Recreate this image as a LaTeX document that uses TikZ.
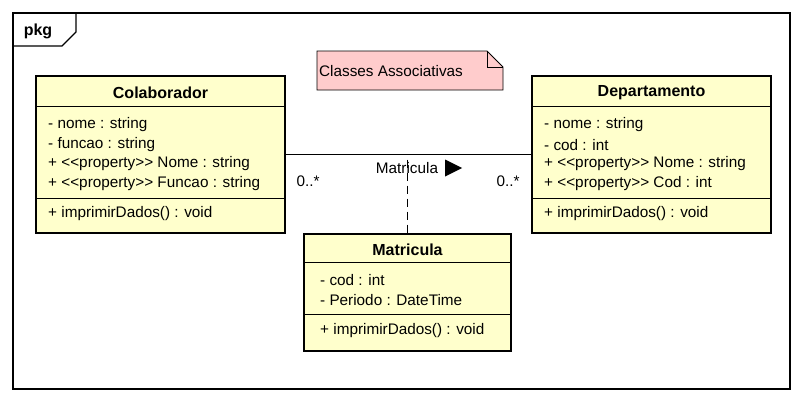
\documentclass[tikz,border=0pt]{standalone}
\usepackage{fontspec}
\setmainfont{Liberation Sans}[Ligatures=TeXOff]
\usepackage{tikz}
\definecolor{classfill}{RGB}{255,255,204}
\definecolor{notefill}{RGB}{255,204,204}
\tikzstyle{classbox} = [draw, line width=2.6pt, fill=classfill,
    inner sep=0pt, outer sep=0pt]
\tikzstyle{sepline} = [line width=0.9pt]
\tikzstyle{member} = [anchor=west, inner sep=0pt,
    font=\fontsize{15.3}{18}\selectfont]
\tikzstyle{classname} = [inner sep=0pt, font=\fontsize{16}{19}\selectfont\bfseries]
\tikzstyle{mult} = [inner sep=0pt, font=\fontsize{15.3}{18}\selectfont]
\tikzset{dashlink/.style={line width=0.9pt, dash pattern=on 8pt off 5pt, dash phase=-5pt}}

\begin{document}
\begin{tikzpicture}[x=1pt,y=-1pt]
    \useasboundingbox (0,0) rectangle (804,402);
    %frame
    \draw [line width=1.2pt] (13,13) rectangle (790,389);
    \draw [line width=1.2pt] (13,46) -- (62,46) -- (76,32) -- (76,13);
    \node[classname] (pkg) at (38,31) {pkg};
    %note
    \draw [fill=notefill, line width=0.8pt] (317,51) -- (487,51) -- (503,67)
        -- (503,90) -- (317,90) -- cycle;
    \draw [line width=0.8pt] (487,51) -- (487,67) -- (503,67);
    \node[member] (note) at (319,71) {Classes Associativas};
    %boxes
    \node[classbox, minimum width=249pt, minimum height=157pt] (colab) at (160.5,154.5) {};
    \node[classbox, minimum width=239pt, minimum height=157pt] (dep) at (651.5,154.5) {};
    \node[classbox, minimum width=207pt, minimum height=117pt] (matric) at (407.5,292.5) {};
    %compartments
    \draw [sepline] ([yshift=-30pt]colab.north west) -- ([yshift=-30pt]colab.north east);
    \draw [sepline] ([yshift=35pt]colab.south west) -- ([yshift=35pt]colab.south east);
    \draw [sepline] ([yshift=-30pt]dep.north west) -- ([yshift=-30pt]dep.north east);
    \draw [sepline] ([yshift=35pt]dep.south west) -- ([yshift=35pt]dep.south east);
    \draw [sepline] ([yshift=-28pt]matric.north west) -- ([yshift=-28pt]matric.north east);
    \draw [sepline] ([yshift=37pt]matric.south west) -- ([yshift=37pt]matric.south east);
    %names
    \node[classname] (colabname) at (160.5,93) {Colaborador};
    \node[classname] (depname) at (651.5,93) {Departamento};
    \node[classname] (matricname) at (407.5,250) {Matricula};
    %members
    \node[member] (colab1) at (48,125) {- nome : string};
    \node[member] (colab2) at (48,145) {- funcao : string};
    \node[member] (colab3) at (48,164) {+ <<property>> Nome : string};
    \node[member] (colab4) at (48,184) {+ <<property>> Funcao : string};
    \node[member] (colab5) at (48,214) {+ imprimirDados() : void};
    \node[member] (dep1) at (544,125) {- nome : string};
    \node[member] (dep2) at (544,145) {- cod : int};
    \node[member] (dep3) at (544,164) {+ <<property>> Nome : string};
    \node[member] (dep4) at (544,184) {+ <<property>> Cod : int};
    \node[member] (dep5) at (544,214) {+ imprimirDados() : void};
    \node[member] (matric1) at (320,280) {- cod : int};
    \node[member] (matric2) at (320,300) {- Periodo : DateTime};
    \node[member] (matric3) at (320,331) {+ imprimirDados() : void};
    %association
    \draw [line width=0.9pt] (colab.east) -- (dep.west);
    \node[mult] (assoclabel) at (407,168) {Matricula};
    \fill ([xshift=7pt,yshift=-8.5pt]assoclabel.east) -- ([xshift=24pt]assoclabel.east)
        -- ([xshift=7pt,yshift=8.5pt]assoclabel.east) -- cycle;
    \node[mult] (multcolab) at (308,181) {0..*};
    \node[mult] (multdep) at (508,181) {0..*};
    \coordinate (assoc) at (matric.north |- colab.east);
    \draw [dashlink] (assoc) -- (matric.north);
\end{tikzpicture}
\end{document}
